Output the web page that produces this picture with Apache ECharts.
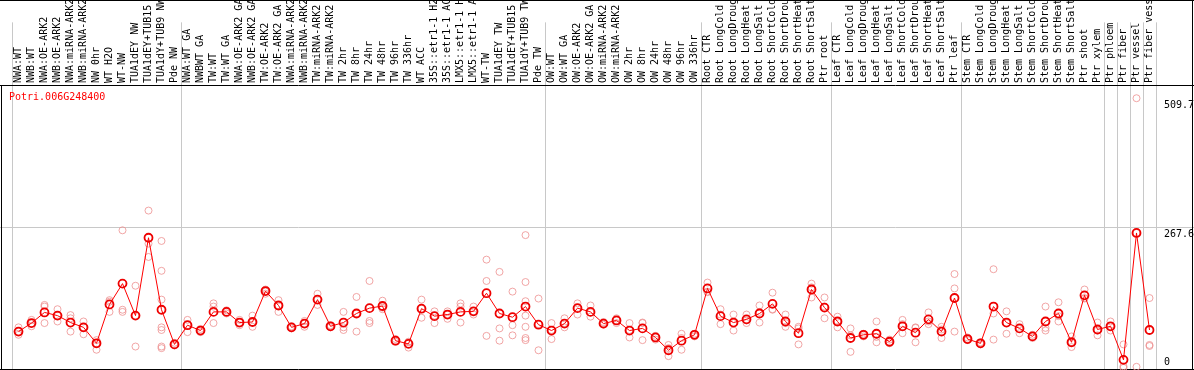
<!DOCTYPE html>
<html><head><meta charset="utf-8">
<script src="https://cdn.jsdelivr.net/npm/echarts@6/dist/echarts.min.js"></script>
<style>html,body{margin:0;padding:0;background:#fff}#c{width:1194px;height:370px}</style>
</head><body><div id="c"></div>
<script>
const geneId = 'Potri.006G248400';

const categories = [
  'NWA:WT','NWB:WT','NWA:OE-ARK2','NWB:OE-ARK2','NWA:miRNA-ARK2','NWB:miRNA-ARK2','NW 0hr','WT H2O','WT-NW',
  'TUA1dEY NW','TUA1dEY+TUB15 NW','TUA1dY+TUB9 NW','Pde NW',
  'NWA:WT GA','NWBWT GA','TW:WT','TW:WT GA','NWA:OE-ARK2 GA','NWB:OE-ARK2 GA','TW:OE-ARK2','TW:OE-ARK2 GA',
  'NWA:miRNA-ARK2','NWB:miRNA-ARK2','TW:miRNA-ARK2','TW:miRNA-ARK2','TW 2hr','TW 8hr','TW 24hr','TW 48hr','TW 96hr','TW 336hr',
  'WT ACC','35S::etr1-1 H2O','35S::etr1-1 ACC','LMX5::etr1-1 H2O','LMX5::etr1-1 ACC','WT-TW','TUA1dEY TW','TUA1dEY+TUB15 TW','TUA1dY+TUB9 TW','Pde TW',
  'OW:WT','OW:WT GA','OW:OE-ARK2','OW:OE-ARK2 GA','OW:miRNA-ARK2','OW:miRNA-ARK2','OW 2hr','OW 8hr','OW 24hr','OW 48hr','OW 96hr','OW 336hr',
  'Root CTR','Root LongCold','Root LongDrought','Root LongHeat','Root LongSalt','Root ShortCold','Root ShortDrought','Root ShortHeat','Root ShortSalt','Ptr root',
  'Leaf CTR','Leaf LongCold','Leaf LongDrought','Leaf LongHeat','Leaf LongSalt','Leaf ShortCold','Leaf ShortDrought','Leaf ShortHeat','Leaf ShortSalt','Ptr leaf',
  'Stem CTR','Stem LongCold','Stem LongDrought','Stem LongHeat','Stem LongSalt','Stem ShortCold','Stem ShortDrought','Stem ShortHeat','Stem ShortSalt','Ptr shoot',
  'Ptr xylem','Ptr phloem','Ptr fiber','Ptr vessel','Ptr fiber vessel'
];

const meanValues = [
  72, 88, 108, 102, 89, 80, 50, 123, 162, 102, 248, 113, 48,
  84, 74, 109, 109, 89, 90, 148, 121, 80, 87, 132, 82, 89, 106, 116, 120, 55, 49,
  115, 101, 104, 109, 110, 144, 106, 99, 119, 85,
  74, 87, 116, 109, 87, 93, 74, 78, 61, 37, 55, 66,
  153, 101, 89, 95, 106, 124, 91, 69, 151, 117,
  91, 60, 66, 68, 53, 82, 70, 95, 72, 135,
  58, 50, 119, 89, 78, 63, 91, 106, 52, 140,
  76, 82, 19, 257, 75
];

const replicateValues = [
  [80,72,66],[94,87,82],[122,119,88],[114,102,91],[103,97,72],[91,80,67],[56,50,38],[131,128,109],[262,113,109],
  [158,102,44],[299,237,212],[242,186,132,80,75,44,41],[51,48,46],
  [94,84,71],[77,74,71],[125,119,88],[112,109,106],[94,89,84],[102,89,81],[151,147,143],[131,121,109],
  [82,80,78],[92,87,81],[143,132,122],[84,82,80],[109,80,75],[137,106,72],[167,92,88],[130,117,114],[58,55,53],[53,52,42],
  [132,115,98],[110,102,88],[110,104,96],[125,119,89],[119,110,104],[207,167,64],[184,78,55],[147,84,65],[253,165,129,102,81,60,56],[134,86,37],
  [88,75,58],[97,88,80],[125,116,104],[121,108,100],[90,88,85],[97,93,88],[88,75,61],[89,88,56],[64,61,57],[47,41,26],[68,60,38],[68,66,63],
  [164,147,146],[114,104,86],[104,88,74],[104,93,88],[121,109,89],[145,114,113],[104,88,81],[81,78,48],[162,155,136],[136,119,97],
  [100,92,80],[78,65,34],[68,66,63],[91,62,52],[57,53,50],[94,86,69],[80,79,52],[108,91,86],[81,76,60],[180,153,72],
  [61,58,56],[52,50,48],[189,106,57],[110,88,68],[86,77,69],[66,63,60],[119,79,74],[127,101,91],[63,51,43],[151,135,134],
  [89,74,65],[91,82,74],[48,7,4],[509.7,257,6],[135,47,45]
];

const yTickLabels = [0, 267.6, 509.7];
const gridLineValues = [267.6];
const groupStartIndexes = [0, 13, 41, 53, 63, 73, 84, 85, 86, 87];
const Y_MAX = 534.5;

const MONO = "'DejaVu Sans Mono', 'Liberation Mono', monospace";
const W = 1194, H = 370;
const chart = echarts.init(document.getElementById('c'), null, {renderer: 'canvas'});

const scatterData = [];
replicateValues.forEach((reps, i) => reps.forEach(v => scatterData.push([i, v])));

const sepLine = {
  show: true,
  interval: (idx) => groupStartIndexes.indexOf(idx) >= 0,
  lineStyle: {color: '#c8c8c8', width: 1}
};

const option = {
  animation: false,
  backgroundColor: '#ffffff',
  title: {
    text: geneId, left: 9, top: 92, padding: 0,
    textStyle: {color: '#ff0000', fontSize: 10, fontFamily: MONO, fontWeight: 'normal'}
  },
  grid: [
    {left: 12, width: 1144, top: 0, height: 85},
    {left: 12, width: 1144, top: 85, height: 287}
  ],
  xAxis: [
    {
      gridIndex: 0, type: 'category', data: categories, position: 'bottom', boundaryGap: true,
      axisLine: {show: false}, axisTick: {show: false},
      axisLabel: {show: true, inside: true, rotate: 90, interval: 0, margin: 2,
        fontSize: 10, fontFamily: MONO, color: '#000000', hideOverlap: false},
      splitLine: sepLine
    },
    {
      gridIndex: 1, type: 'category', data: categories, position: 'bottom', boundaryGap: true,
      axisLine: {show: false}, axisTick: {show: false}, axisLabel: {show: false},
      splitLine: sepLine
    }
  ],
  yAxis: [
    {gridIndex: 0, type: 'value', min: 0, max: 1, show: false},
    {gridIndex: 1, type: 'value', min: 0, max: Y_MAX, show: false}
  ],
  series: [
    {
      name: 'replicates', type: 'scatter', xAxisIndex: 1, yAxisIndex: 1, data: scatterData,
      symbol: 'circle', symbolSize: 7,
      itemStyle: {color: 'rgba(0,0,0,0)', borderColor: '#ee9090', borderWidth: 1},
      z: 2
    },
    {
      name: 'mean', type: 'line', xAxisIndex: 1, yAxisIndex: 1, data: meanValues,
      symbol: 'circle', symbolSize: 8, showAllSymbol: true,
      lineStyle: {color: '#ff0000', width: 1},
      itemStyle: {color: 'rgba(0,0,0,0)', borderColor: '#ee0000', borderWidth: 1.8},
      z: 3
    }
  ]
};
chart.setOption(option);

const py = v => chart.convertToPixel({yAxisIndex: 1}, v);
const ln = (x1, y1, x2, y2, color) => ({
  type: 'line', silent: true,
  shape: {x1, y1, x2, y2},
  style: {stroke: color, lineWidth: 1}
});
const elements = [];
gridLineValues.forEach(v => {
  const y = Math.round(py(v)) + 0.5;
  elements.push(ln(0, y, W, y, '#c8c8c8'));
});
elements.push(ln(0, 0.5, W, 0.5, '#000'));
elements.push(ln(0, 85.5, W, 85.5, '#000'));
elements.push(ln(0, 369.5, W, 369.5, '#000'));
elements.push(ln(1.5, 85, 1.5, H, '#000'));
elements.push(ln(1192.5, 0, 1192.5, H, '#000'));
yTickLabels.forEach(v => {
  const y = Math.min(py(v) + 2, 357);
  elements.push({
    type: 'text', silent: true, x: 1164, y: y,
    style: {text: String(v), fill: '#000', font: "10px 'DejaVu Sans Mono', monospace", textVerticalAlign: 'top', verticalAlign: 'top'}
  });
});
chart.setOption({graphic: {elements}});
</script></body></html>
